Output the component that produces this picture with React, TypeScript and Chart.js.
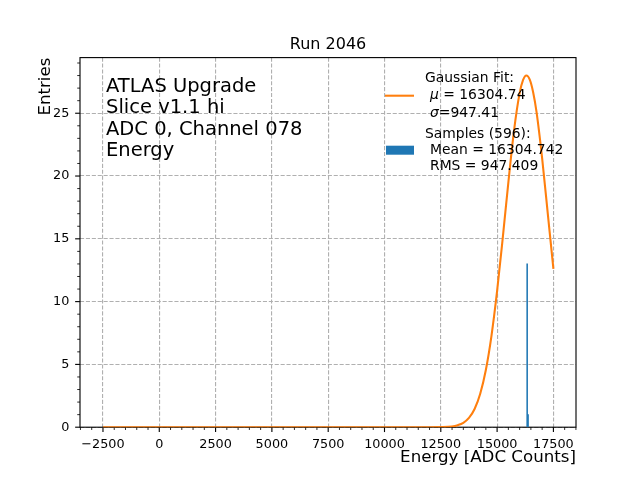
import React, { useEffect, useRef } from 'react';
import { Chart, registerables } from 'chart.js';

Chart.register(...registerables);

const FONT = 'DejaVu Sans';

const titleText = 'Run 2046';
const annotationLines = ['ATLAS Upgrade', 'Slice v1.1 hi', 'ADC 0, Channel 078', 'Energy'];
const xAxisLabel = 'Energy [ADC Counts]';
const yAxisLabel = 'Entries';

const xTickValues = [-2500, 0, 2500, 5000, 7500, 10000, 12500, 15000, 17500];
const yTickValues = [0, 5, 10, 15, 20, 25];
const xMinorStep = 500;
const yMinorStep = 1;

// Gaussian fit curve
const fitX = [-2500, 0, 2500, 5000, 7500, 10000, 12000, 12500, 13000, 13250, 13500, 13750, 14000, 14250, 14500, 14750, 15000, 15250, 15500, 15750, 16000, 16150, 16300, 16450, 16600, 16750, 17000, 17250, 17500];
const fitY = [0, 0, 0, 0, 0, 0, 0.001, 0.01, 0.06, 0.16, 0.35, 0.74, 1.45, 2.67, 4.56, 7.28, 10.85, 15.06, 19.5, 23.6, 26.6, 27.63, 28.0, 27.67, 26.67, 25.1, 21.4, 17.0, 12.6];

// Histogram bins (centres) and counts
const histX = [16335, 16375];
const histY = [13, 1];

const fitMu = '16304.74';
const fitSigma = '947.41';
const sampleCount = 596;
const sampleMean = '16304.742';
const sampleRms = '947.409';

const ORANGE = '#ff7f0e';
const BLUE = '#1f77b4';

const fmtTick = (v: number) => (v < 0 ? '\u2212' + Math.abs(v) : String(v));

const decorPlugin = {
  id: 'decor',
  beforeDatasetsDraw(chart: any) {
    const { ctx, chartArea: a, scales } = chart;
    const x = scales.x;
    const y = scales.y;
    ctx.save();
    ctx.strokeStyle = '#000';
    for (let v = Math.ceil(x.min / xMinorStep) * xMinorStep; v <= x.max; v += xMinorStep) {
      const px = x.getPixelForValue(v);
      const major = xTickValues.includes(v);
      ctx.lineWidth = major ? 1.11 : 0.83;
      ctx.beginPath();
      ctx.moveTo(px, a.bottom);
      ctx.lineTo(px, a.bottom + (major ? 4.86 : 2.78));
      ctx.stroke();
    }
    for (let v = Math.ceil(y.min / yMinorStep) * yMinorStep; v <= y.max; v += yMinorStep) {
      const py = y.getPixelForValue(v);
      const major = yTickValues.includes(v);
      ctx.lineWidth = major ? 1.11 : 0.83;
      ctx.beginPath();
      ctx.moveTo(a.left, py);
      ctx.lineTo(a.left - (major ? 4.86 : 2.78), py);
      ctx.stroke();
    }
    ctx.lineWidth = 1.11;
    ctx.strokeRect(a.left, a.top, a.right - a.left, a.bottom - a.top);
    ctx.restore();
  },
  afterDatasetsDraw(chart: any) {
    const { ctx, chartArea: a } = chart;
    ctx.save();
    ctx.fillStyle = '#000';
    ctx.textBaseline = 'alphabetic';
    ctx.font = `16px "${FONT}"`;
    ctx.textAlign = 'center';
    ctx.fillText(titleText, (a.left + a.right) / 2, 49);
    ctx.textAlign = 'left';
    ctx.font = `19.5px "${FONT}"`;
    annotationLines.forEach((t, i) => ctx.fillText(t, 106, 91.7 + i * 21.5));
    ctx.strokeStyle = ORANGE;
    ctx.lineWidth = 2.08;
    ctx.beginPath();
    ctx.moveTo(385, 95.7);
    ctx.lineTo(414, 95.7);
    ctx.stroke();
    ctx.fillStyle = BLUE;
    ctx.fillRect(386, 145.7, 28, 9);
    ctx.fillStyle = '#000';
    const f = `13.89px "${FONT}"`;
    const fi = `italic 13.89px "${FONT}"`;
    ctx.font = f;
    ctx.fillText('Gaussian Fit:', 425, 81.7);
    ctx.font = fi;
    ctx.fillText('\u03bc', 430, 99.3);
    let w = ctx.measureText('\u03bc').width;
    ctx.font = f;
    ctx.fillText(' = ' + fitMu, 430 + w, 99.3);
    ctx.font = fi;
    ctx.fillText('\u03c3', 430, 117.3);
    w = ctx.measureText('\u03c3').width;
    ctx.font = f;
    ctx.fillText('=' + fitSigma, 430 + w, 117.3);
    ctx.fillText(`Samples (${sampleCount}):`, 425, 138.3);
    ctx.fillText('Mean = ' + sampleMean, 430, 154.3);
    ctx.fillText('RMS = ' + sampleRms, 430, 170);
    ctx.restore();
  },
};

export default function App() {
  const ref = useRef<HTMLCanvasElement | null>(null);
  useEffect(() => {
    if (!ref.current) return;
    Chart.defaults.font.family = FONT;
    Chart.defaults.color = '#000';
    const chart = new Chart(ref.current, {
      type: 'line',
      data: {
        datasets: [
          {
            type: 'line',
            label: 'Gaussian Fit',
            data: fitX.map((x, i) => ({ x, y: fitY[i] })),
            borderColor: ORANGE,
            borderWidth: 2.08,
            pointRadius: 0,
            cubicInterpolationMode: 'monotone',
            fill: false,
            order: 1,
          } as any,
          {
            type: 'bar',
            label: 'Samples',
            data: histX.map((x, i) => ({ x, y: histY[i] })),
            backgroundColor: BLUE,
            borderWidth: 0,
            barPercentage: 1,
            categoryPercentage: 1,
            order: 2,
          } as any,
        ],
      },
      options: {
        animation: false,
        responsive: true,
        maintainAspectRatio: false,
        layout: { padding: { top: 57.6, right: 64, left: 0, bottom: 0 } },
        plugins: {
          legend: { display: false },
          title: { display: false },
          tooltip: { enabled: false },
        },
        scales: {
          x: {
            type: 'linear',
            offset: false,
            min: -3520,
            max: 18503,
            afterBuildTicks: (s: any) => {
              s.ticks = xTickValues.map((v) => ({ value: v }));
            },
            afterFit: (s: any) => {
              s.height = 52.8;
            },
            ticks: {
              font: { family: FONT, size: 12.8 },
              color: '#000',
              padding: 10,
              maxRotation: 0,
              autoSkip: false,
              callback: (v: any) => fmtTick(Number(v)),
            },
            grid: { color: '#b0b0b0', lineWidth: 1.11, drawTicks: false, offset: false },
            border: { display: false, dash: [4.1, 1.8] },
            title: {
              display: true,
              text: xAxisLabel,
              align: 'end',
              color: '#000',
              font: { family: FONT, size: 16.67 },
              padding: { top: 0, bottom: 12.5 },
            },
          },
          y: {
            type: 'linear',
            offset: false,
            min: 0,
            max: 29.43,
            afterBuildTicks: (s: any) => {
              s.ticks = yTickValues.map((v) => ({ value: v }));
            },
            afterFit: (s: any) => {
              s.width = 80;
            },
            ticks: {
              font: { family: FONT, size: 12.8 },
              color: '#000',
              padding: 10.7,
              autoSkip: false,
              callback: (v: any) => fmtTick(Number(v)),
            },
            grid: { color: '#b0b0b0', lineWidth: 1.11, drawTicks: false, offset: false },
            border: { display: false, dash: [4.1, 1.8] },
            title: {
              display: true,
              text: yAxisLabel,
              align: 'end',
              color: '#000',
              font: { family: FONT, size: 16.67 },
              padding: { top: 35.5, bottom: 0 },
            },
          },
        },
      } as any,
      plugins: [decorPlugin],
    });
    return () => chart.destroy();
  }, []);
  return (
    <div style={{ position: 'absolute', left: 0, top: 0, width: 640, height: 480, background: '#fff' }}>
      <canvas ref={ref} style={{ display: 'block' }} />
    </div>
  );
}
